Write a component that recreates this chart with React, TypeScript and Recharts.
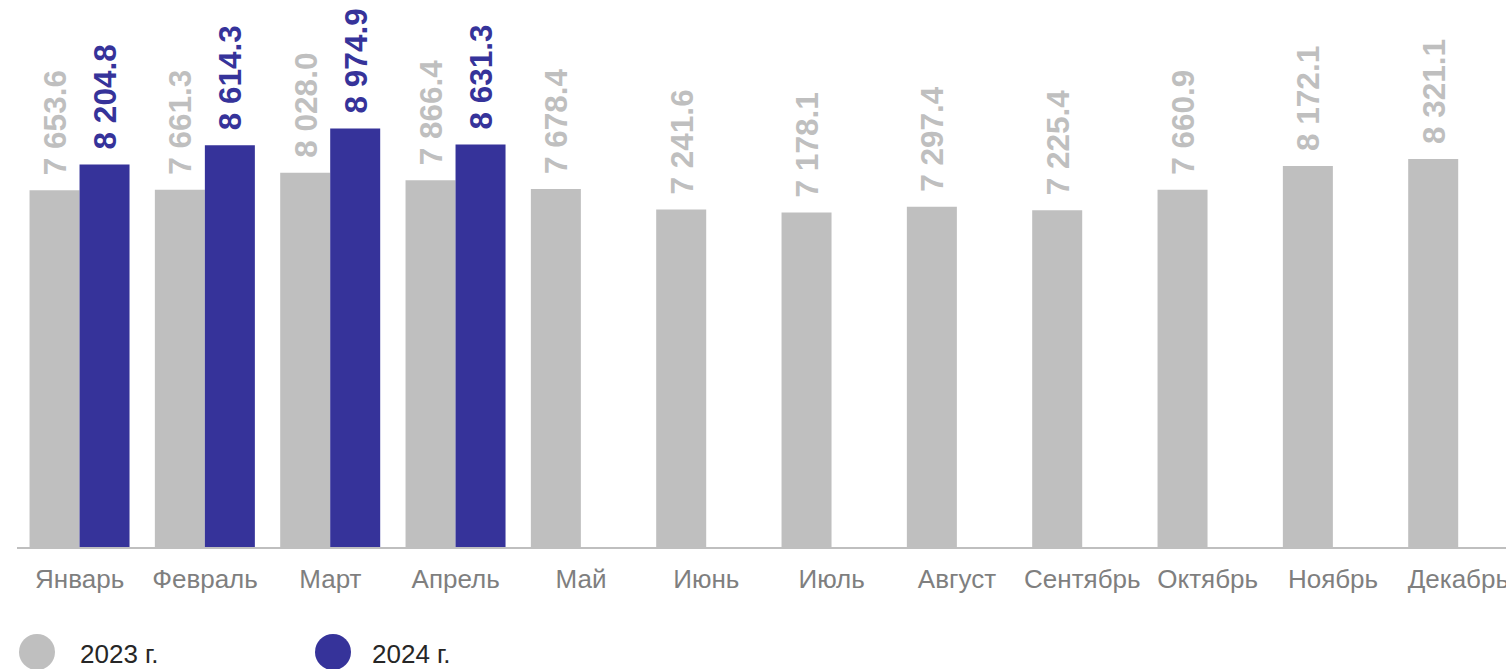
import { Bar, BarChart, LabelList, XAxis, YAxis } from "recharts";

const months = ["Январь", "Февраль", "Март", "Апрель", "Май", "Июнь", "Июль", "Август", "Сентябрь", "Октябрь", "Ноябрь", "Декабрь"];
const values2023 = [7653.6, 7661.3, 8028.0, 7866.4, 7678.4, 7241.6, 7178.1, 7297.4, 7225.4, 7660.9, 8172.1, 8321.1];
const values2024: (number | null)[] = [8204.8, 8614.3, 8974.9, 8631.3, null, null, null, null, null, null, null, null];

const series = [
  { key: "y2023", name: "2023 г.", color: "#bfbfbf", values: values2023 },
  { key: "y2024", name: "2024 г.", color: "#36339a", values: values2024 },
];

const FONT = "'Liberation Sans', Arial, sans-serif";

const chartData = months.map((month, i) => ({
  month,
  y2023: values2023[i],
  y2024: values2024[i],
}));

const fmt = (v: number) => {
  const [int, dec] = v.toFixed(1).split(".");
  return int.replace(/\B(?=(\d{3})+(?!\d))/g, " ") + "." + dec;
};

function ValueLabel(color: string) {
  return (props: any) => {
    const { x, y, width, value } = props;
    if (value == null) return null;
    const cx = x + width / 2;
    const ty = y - 15;
    return (
      <text
        x={cx}
        y={ty}
        dy="0.36em"
        transform={`rotate(-90 ${cx} ${ty})`}
        textAnchor="start"
        fill={color}
        fontSize={31.5}
        fontWeight="bold"
        fontFamily={FONT}
      >
        {fmt(value)}
      </text>
    );
  };
}

export default function App() {
  return (
    <div style={{ position: "fixed", left: 0, top: 0, width: 1506, height: 669, overflow: "hidden", background: "#fff" }}>
      <BarChart
        width={1521}
        height={600}
        data={chartData}
        margin={{ top: 1, right: 0, left: 17, bottom: 0 }}
        barCategoryGap="10%"
        barGap={0}
      >
        <XAxis
          dataKey="month"
          height={52}
          interval={0}
          tickLine={false}
          tickMargin={16}
          axisLine={{ stroke: "#bfbfbf", strokeWidth: 2 }}
          tick={{ fontSize: 26, fill: "#7f7f7f", fontFamily: FONT }}
        />
        <YAxis hide domain={[0, 11700]} />
        {series.map((s) => (
          <Bar key={s.key} dataKey={s.key} fill={s.color} isAnimationActive={false}>
            <LabelList dataKey={s.key} content={ValueLabel(s.color)} />
          </Bar>
        ))}
      </BarChart>
      {series.map((s, i) => (
        <div key={s.key}>
          <div
            style={{
              position: "absolute",
              left: 19 + i * 296,
              top: 634,
              width: 36,
              height: 36,
              borderRadius: "50%",
              background: s.color,
            }}
          />
          <div
            style={{
              position: "absolute",
              left: 80 + i * 292,
              top: 641,
              fontSize: 26,
              lineHeight: 1,
              color: "#262626",
              fontFamily: FONT,
              whiteSpace: "nowrap",
            }}
          >
            {s.name}
          </div>
        </div>
      ))}
    </div>
  );
}
